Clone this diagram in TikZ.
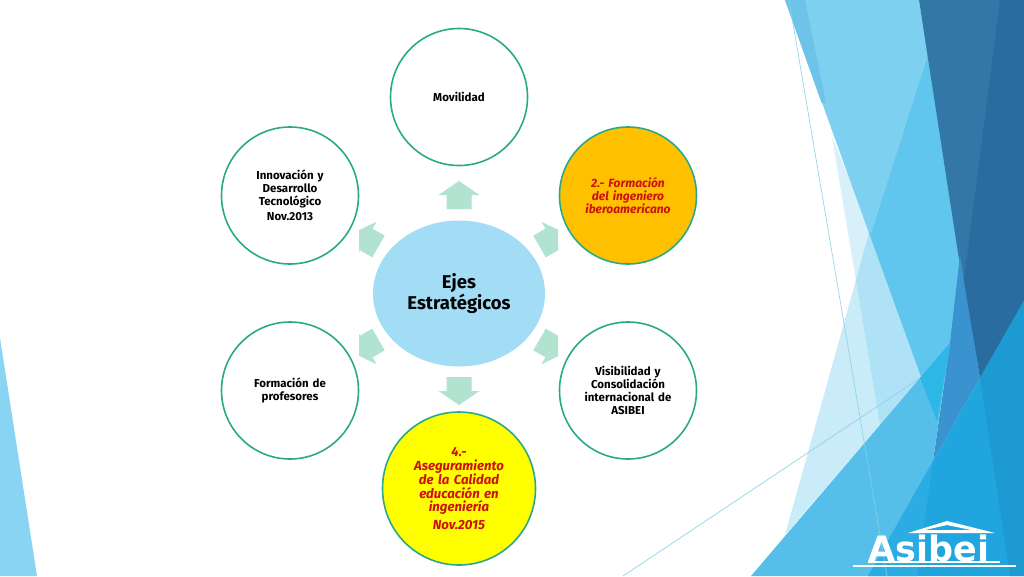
\documentclass[tikz,border=0pt]{standalone}
\usepackage{fontspec}
\setmainfont{Fira Sans}
\newfontfamily\logofont{DejaVu Sans}
\usetikzlibrary{positioning,shapes.geometric}
\definecolor{ringcolor}{RGB}{42,169,138}
\definecolor{hubcolor}{RGB}{162,220,245}
\definecolor{arrowcolor}{RGB}{177,227,208}
\definecolor{amberfill}{RGB}{255,192,0}
\definecolor{yellowfill}{RGB}{255,255,0}
\definecolor{redtext}{RGB}{205,16,16}
\definecolor{bandlight}{RGB}{125,208,240}
\definecolor{bandleft}{RGB}{110,196,232}
\definecolor{bandmid}{RGB}{96,198,238}
\definecolor{bandlow}{RGB}{85,191,233}
\definecolor{bandglow}{RGB}{44,183,231}
\definecolor{darkone}{RGB}{50,119,166}
\definecolor{darktwo}{RGB}{40,108,160}
\definecolor{midblue}{RGB}{58,146,207}
\definecolor{brightblue}{RGB}{32,165,222}
\definecolor{brightdeep}{RGB}{29,154,210}
\definecolor{brightlow}{RGB}{43,172,226}
\definecolor{cornerblue}{RGB}{138,212,243}
\definecolor{hairline}{RGB}{140,207,232}
\tikzset{
  axisnode/.style={circle, draw=ringcolor, line width=1.6pt, fill=white, minimum size=137pt, inner sep=0pt,
    align=center, text width=100pt, font=\fontsize{11.5}{12.8}\selectfont\bfseries},
  redtitle/.style={text=redtext, font=\fontsize{12}{12.8}\selectfont\bfseries\itshape},
  redlarge/.style={text=redtext, font=\fontsize{13.2}{13.5}\selectfont\bfseries\itshape},
}
\newcommand{\axisarrow}[2]{%
  \fill[arrowcolor, shift={(459,293)}, rotate=#1]
    (-12.5,-#2) -- (-12.5,-#2-14) -- (-20.5,-#2-14) -- (0,-#2-28) -- (20.5,-#2-14) -- (12.5,-#2-14) -- (12.5,-#2) -- cycle;}

\begin{document}
\begin{tikzpicture}[x=1pt,y=-1pt]
    \useasboundingbox (0,0) rectangle (1024,576);
    \fill[white] (0,0) rectangle (1024,576);

    % Corner
    \fill[cornerblue] (0,338) -- (37,576) -- (0,576) -- cycle;

    % Pale bands
    \fill[bandmid, opacity=0.25] (832,137) -- (900,300) -- (937,421) -- (880,425) -- cycle;
    \fill[bandmid, opacity=0.33] (869,233) -- (950,300) -- (920,378) -- (785,535) -- cycle;

    % Top bands
    \fill[bandlight] (785,0) -- (919,0) -- (927,57) -- (871,233) -- (869,233) -- cycle;
    \fill[bandleft] (785,0) -- (805,0) -- (826,103) -- (821.6,103) -- cycle;
    \fill[bandmid] (927,57) -- (919,0) -- (962,253) -- (960,300) -- (937,421) -- (869,233) -- (871,233) -- cycle;

    % Dark bands
    \fill[darkone] (919,0) -- (1024,0) -- (1024,301) -- (980,378) -- (958,253) -- cycle;
    \fill[darktwo] (1000,0) -- (1024,0) -- (1024,301) -- (980,378) -- (965,288) -- (963,288) -- cycle;
    \fill[midblue] (960,255) -- (965,288) -- (980,378) -- (933,461) -- (950,343) -- cycle;

    % Lower bands
    \fill[bandlow] (751,576) -- (920,378) -- (950,343) -- (933,461) -- (868,576) -- cycle;
    \fill[bandglow] (920,378) -- (950,343) -- (937,421) -- cycle;
    \fill[brightblue] (1024,301) -- (980,378) -- (933,461) -- (868,576) -- (1024,576) -- cycle;
    \fill[brightdeep] (1024,301) -- (980,378) -- (1010,576) -- (1024,576) -- cycle;
    \fill[brightlow] (933,461) -- (917,576) -- (868,576) -- cycle;

    % Hair lines
    \draw[hairline, line width=0.6pt] (789,0) -- (887,576);
    \draw[hairline, line width=0.6pt] (623,576) -- (920,378);

    % Arrows
    \begin{scope}
      \clip (359,170) rectangle (558,410);
      \foreach \ang in {0,60,120,180,240,300} {
        \pgfmathsetmacro{\off}{mod(\ang,180)==0 ? 84 : 93}
        \axisarrow{\ang}{\off}
      }
    \end{scope}

    % Hub
    \node[ellipse, fill=hubcolor, minimum width=172pt, minimum height=146pt, inner sep=0pt, align=center,
      font=\fontsize{18.5}{20.5}\selectfont\bfseries] (hub) at (459,293.5) {Ejes\\Estratégicos};

    % Axes
    \node[axisnode] (movilidad) at (459,97) {Movilidad};
    \node[axisnode, fill=amberfill, redtitle] (formacion) at (628,195.5) {2.- Formación\\del ingeniero\\iberoamericano};
    \node[axisnode] (visibilidad) at (628,390.5) {Visibilidad y\\Consolidación\\internacional de\\ASIBEI};
    \node[axisnode, fill=yellowfill, redlarge, minimum size=153pt] (calidad) at (459,488.5)
      {4.-\\Aseguramiento\\de la Calidad\\educación en\\ingeniería\\[4pt]Nov.2015};
    \node[axisnode] (profesores) at (290,390.5) {Formación de\\profesores};
    \node[axisnode] (innovacion) at (290,195.5) {Innovación y\\Desarrollo\\Tecnológico\\[3pt]Nov.2013};

    % Logo
    \fill[white, even odd rule] (947,521) -- (995,533) -- (908,533) -- cycle (947,525) -- (925,530) -- (971,530) -- cycle;
    \node[white, inner sep=0pt, font=\logofont\fontsize{35}{35}\selectfont\bfseries] (logo) at (929,548) {Asibei};
    \fill[white] (868,561) rectangle (1000,562.5);
    \fill[white] (853,565) rectangle (1016,566.5);

\end{tikzpicture}
\end{document}
